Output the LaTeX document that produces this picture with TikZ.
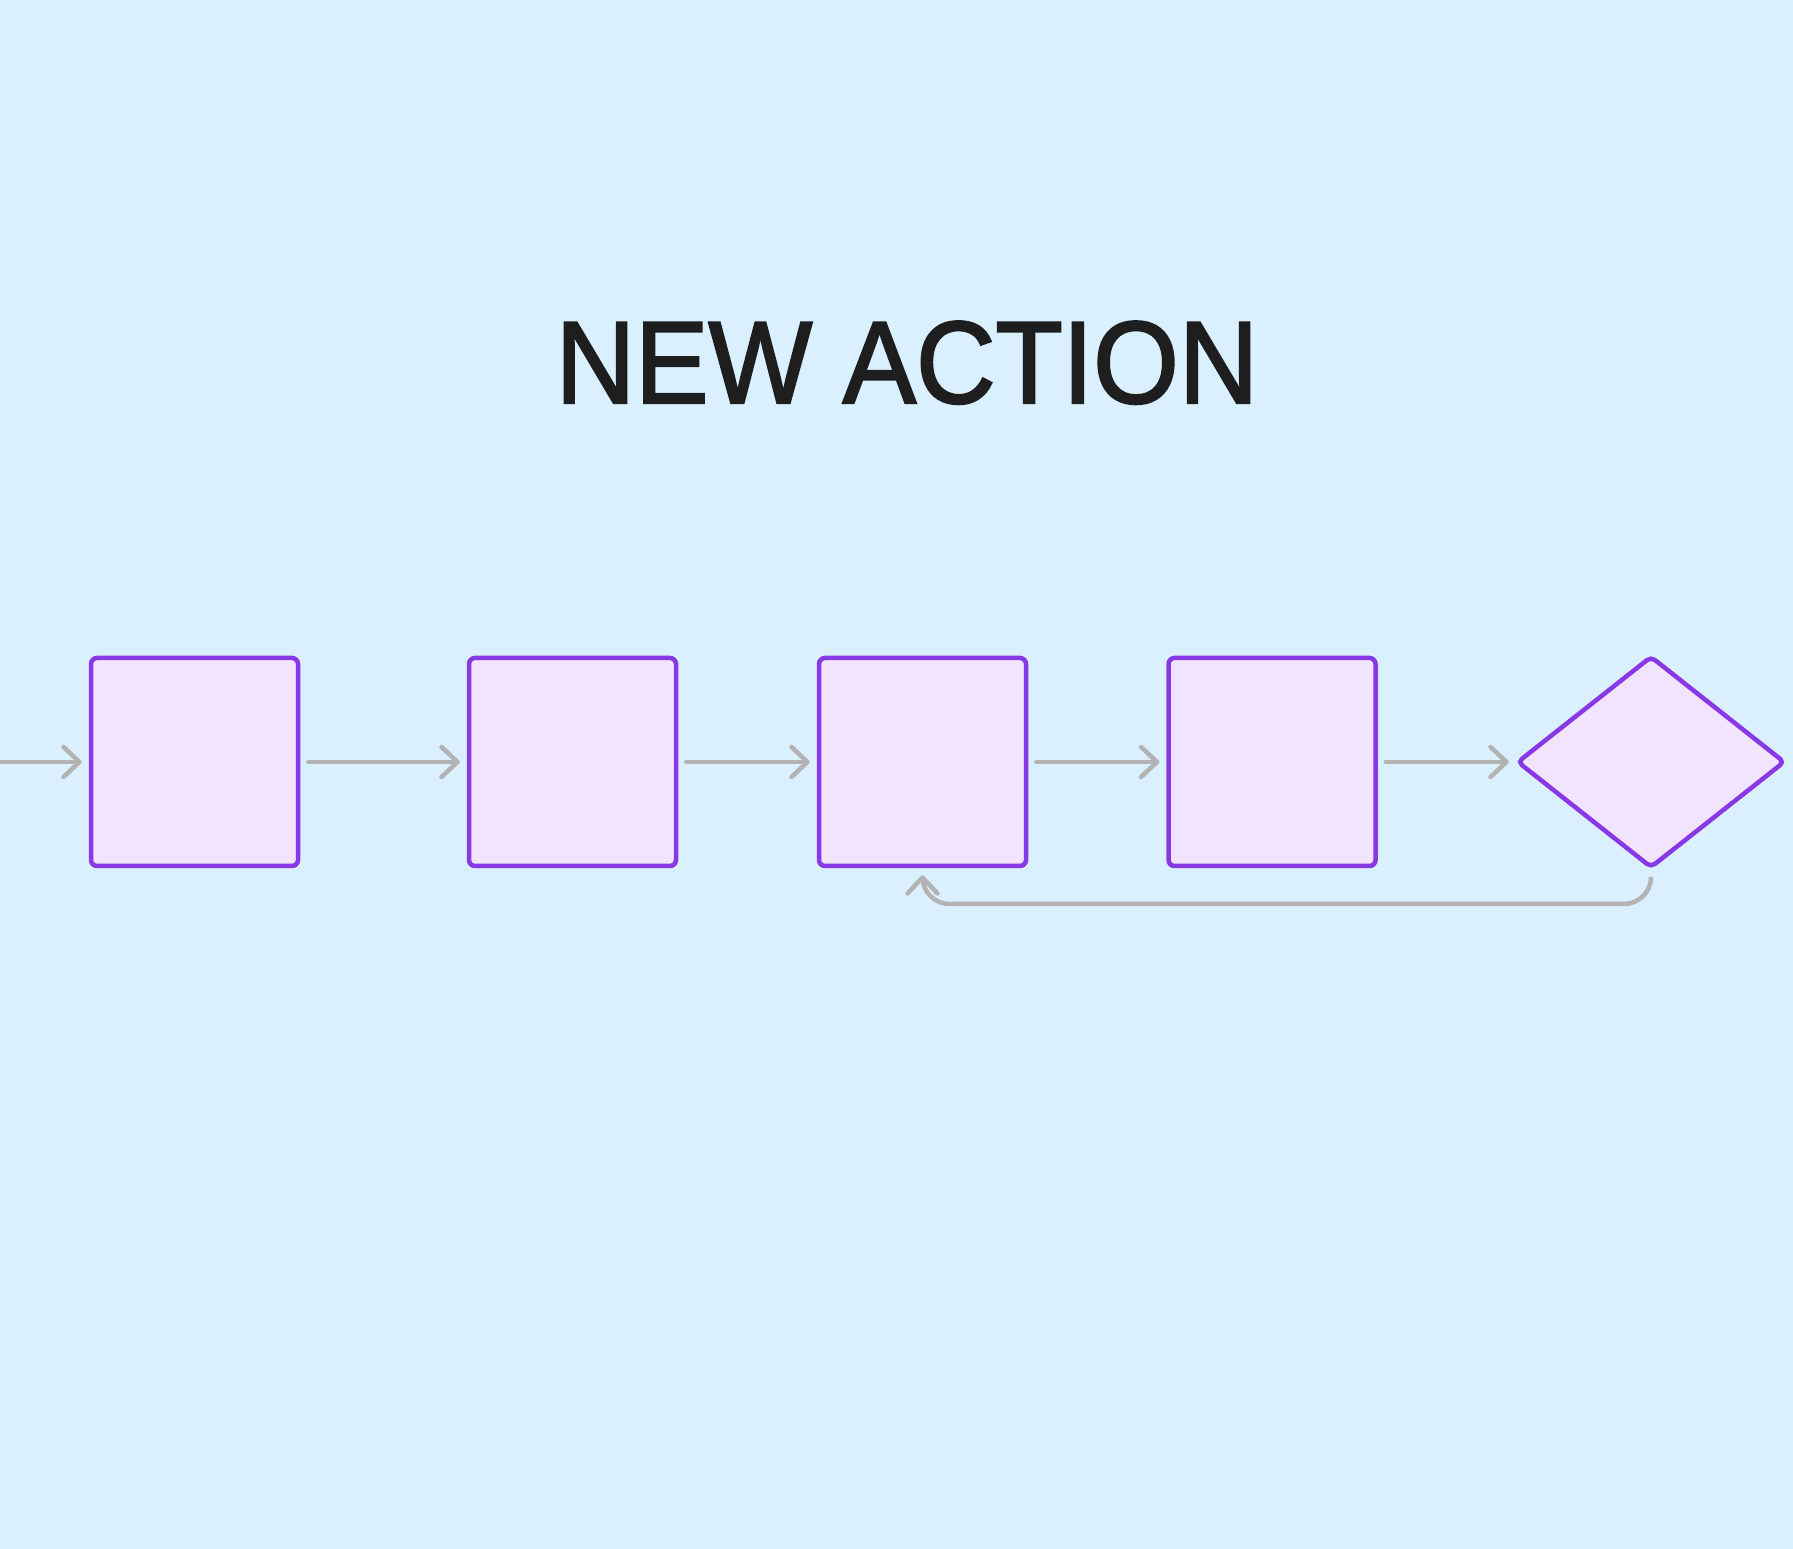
\documentclass[tikz,border=0pt]{standalone}
\usepackage{fontspec}
\setmainfont{Liberation Sans}
\usetikzlibrary{arrows.meta,shapes.geometric}
\definecolor{bgblue}{RGB}{218,240,254}
\definecolor{boxfill}{RGB}{242,228,254}
\definecolor{boxline}{RGB}{137,56,229}
\definecolor{arrgray}{RGB}{179,179,179}
\definecolor{titleink}{RGB}{30,30,30}
\tikzset{
  stepbox/.style={draw=boxline, fill=boxfill, line width=4.5pt, rounded corners=6pt,
    minimum width=207pt, minimum height=208pt, inner sep=0pt},
  decbox/.style={diamond, draw=boxline, fill=boxfill, line width=4.5pt, rounded corners=5pt,
    minimum width=268pt, minimum height=212pt, aspect=1.27, inner sep=0pt},
  flow/.style={draw=arrgray, line width=4.5pt, line cap=round,
    -{Straight Barb[length=16pt,width=30pt,round]}},
}
\begin{document}
\begin{tikzpicture}[x=1pt,y=1pt]
\fill[bgblue] (0,0) rectangle (1793,1549);
\useasboundingbox (0,0) rectangle (1793,1549);
\node[anchor=base, text=titleink, font=\fontsize{117}{117}\selectfont\addfontfeature{FakeBold=2}] (title) at (907,1146) {\scalebox{0.94}[1]{NEW ACTION}};
\node[stepbox] (b1) at (194.5,787) {};
\node[stepbox] (b2) at (572.5,787) {};
\node[stepbox] (b3) at (922.5,787) {};
\node[stepbox] (b4) at (1272,787) {};
\node[decbox] (d) at (1651,787) {};
\coordinate (in) at (-20,787);
\coordinate (fb) at (0,645);
\draw[flow, shorten >=7pt] (in) -- (b1.west);
\draw[flow, shorten <=8pt, shorten >=7pt] (b1.east) -- (b2.west);
\draw[flow, shorten <=8pt, shorten >=7pt] (b2.east) -- (b3.west);
\draw[flow, shorten <=8pt, shorten >=7pt] (b3.east) -- (b4.west);
\draw[flow, shorten <=8pt, shorten >=6pt] (b4.east) -- (d.west);
\draw[flow, rounded corners=27pt, shorten <=7pt, shorten >=7pt] (d.south) -- (d.south |- fb) -- (b3.south |- fb) -- (b3.south);
\end{tikzpicture}
\end{document}
